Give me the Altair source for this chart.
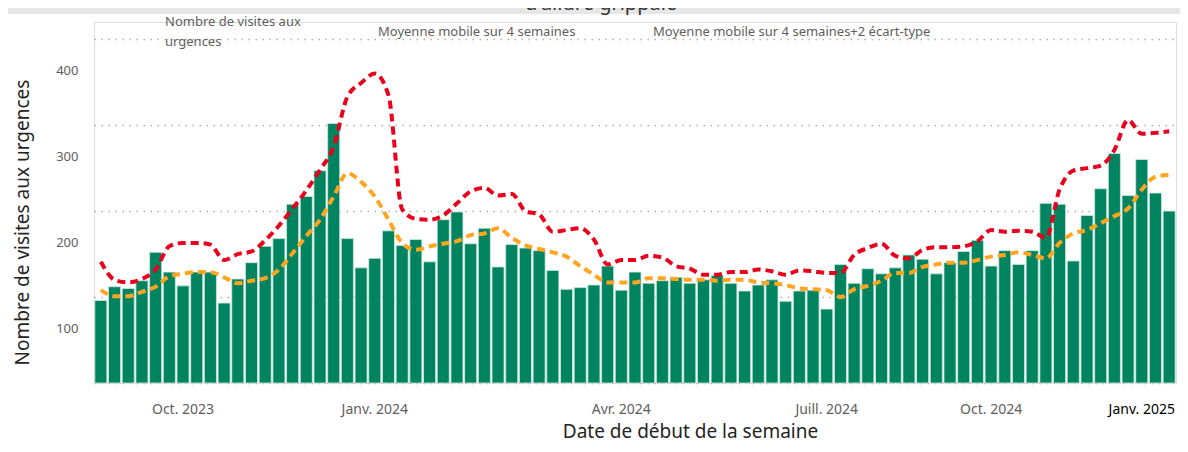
import altair as alt
import pandas as pd

# Semaines (date de début), 79 semaines
semaines = pd.date_range("2023-08-21", periods=79, freq="7D").strftime("%Y-%m-%d").tolist()

visites = [96, 112, 110, 119, 152, 129, 113, 129, 129, 93, 121, 140, 159, 168, 208, 217,
           247, 302, 168, 134, 145, 177, 160, 167, 141, 190, 199, 162, 180, 135, 161, 157,
           154, 131, 109, 111, 114, 136, 108, 129, 116, 119, 123, 116, 120, 125, 116, 107,
           114, 120, 95, 107, 108, 86, 138, 116, 133, 127, 134, 149, 144, 127, 140, 153,
           166, 136, 154, 138, 154, 209, 208, 142, 195, 226, 267, 218, 260, 221, 200]

moyenne = [108, 101, 101, 106, 112, 124, 127, 129, 129, 123, 116, 119, 122, 132, 151, 171,
           190, 217, 244, 234, 217, 190, 163, 155, 159, 162, 165, 172, 174, 180, 169, 160,
           156, 152, 147, 136, 126, 117, 117, 117, 122, 122, 121, 120, 120, 119, 120, 120,
           117, 116, 114, 110, 109, 108, 100, 109, 113, 119, 128, 128, 135, 138, 140, 140,
           143, 147, 149, 152, 149, 145, 163, 174, 178, 186, 194, 203, 225, 240, 242]

moyenne_2et = [141, 120, 117, 121, 132, 159, 163, 163, 161, 143, 150, 153, 166, 183, 203, 224,
               248, 275, 333, 349, 360, 335, 202, 191, 190, 195, 209, 223, 227, 218, 220, 200,
               196, 176, 178, 180, 167, 138, 143, 143, 148, 146, 136, 133, 126, 126, 129, 129,
               132, 130, 126, 131, 130, 128, 128, 149, 157, 162, 148, 145, 155, 158, 158, 159,
               165, 178, 176, 177, 176, 169, 225, 247, 250, 253, 271, 306, 290, 291, 293]

series = ["Nombre de visites aux urgences",
          "Moyenne mobile sur 4 semaines",
          "Moyenne mobile sur 4 semaines+2 écart-type"]
couleurs = ["#00845F", "#FFA51F", "#E8001C"]

tick_index = [6, 20, 38, 53, 65, 76]
tick_labels = ["Oct. 2023", "Janv. 2024", "Avr. 2024", "Juill. 2024", "Oct. 2024", "Janv. 2025"]
y_ticks = [0, 100, 200, 300, 400]
titre_texte = ["d'allure grippale"]

tick_weeks = [semaines[i] for i in tick_index]
label_expr = "''"
for w, lab in zip(reversed(tick_weeks), reversed(tick_labels)):
    label_expr = f"datum.value == '{w}' ? '{lab}' : ({label_expr})"

df_bar = pd.DataFrame({"semaine": semaines, "valeur": visites, "serie": series[0]})
df_line = pd.concat([
    pd.DataFrame({"semaine": semaines, "valeur": moyenne, "serie": series[1]}),
    pd.DataFrame({"semaine": semaines, "valeur": moyenne_2et, "serie": series[2]}),
])
df_titre = pd.DataFrame({"titre": titre_texte})

FONT = "Noto Sans"

color_scale = alt.Scale(domain=series, range=couleurs)
legend = alt.Legend(
    title=None, orient="none", legendX=58, legendY=-7, direction="horizontal",
    symbolSize=0, symbolOpacity=0, symbolStrokeWidth=0, labelOffset=0,
    labelFontSize=13, labelColor="#605E5C", labelFont=FONT, columnPadding=64,
    labelLimit=500, padding=0,
    labelExpr="datum.label == 'Nombre de visites aux urgences' ? ['Nombre de visites aux', 'urgences'] : datum.label",
)

x_enc = alt.X(
    "semaine:O",
    scale=alt.Scale(paddingInner=0.12, paddingOuter=0.06),
    axis=alt.Axis(
        title="Date de début de la semaine", values=tick_weeks, labelExpr=label_expr,
        labelAngle=0, ticks=False, domain=False, grid=False, labelPadding=19,
        labelFontSize=14, labelFont=FONT,
        labelColor={"condition": {"test": f"datum.value == '{tick_weeks[-1]}'", "value": "#000000"},
                    "value": "#605E5C"},
        titleFontSize=19, titleFont=FONT, titleFontWeight="normal", titleColor="#252423",
        titleX=596, titleY=48, titleAlign="center", titleBaseline="middle",
    ),
)
y_enc = alt.Y(
    "valeur:Q",
    scale=alt.Scale(domain=[0, 420], nice=False),
    axis=alt.Axis(
        title="Nombre de visites aux urgences", values=y_ticks,
        labelExpr="datum.value == 0 ? '' : datum.label", labelOffset=31,
        labelPadding=16, ticks=False, domain=False, grid=True,
        gridDash=[1.5, 5.5], gridColor="#B0B0B0", gridWidth=1.5,
        labelFontSize=13, labelFont=FONT, labelColor="#605E5C",
        titleFontSize=19, titleFont=FONT, titleFontWeight="normal", titleColor="#252423",
        titleX=-72, titleY=200, titleAlign="center", titleBaseline="middle",
    ),
)

bars = alt.Chart(df_bar).mark_bar(stroke="#CFE9E1", strokeWidth=0.8).encode(
    x=x_enc, y=y_enc,
    color=alt.Color("serie:N", scale=color_scale, legend=legend),
)

lines = alt.Chart(df_line).mark_line(
    interpolate="monotone", strokeWidth=4, strokeDash=[8, 5], strokeCap="butt"
).encode(
    x="semaine:O", y="valeur:Q",
    color=alt.Color("serie:N", scale=color_scale, legend=legend),
)

band = alt.Chart(df_titre).mark_rect(color="#E6E6E6").encode(
    x=alt.value(-86), x2=alt.value(1090), y=alt.value(-14), y2=alt.value(-8)
)
titre = alt.Chart(df_titre).mark_text(
    fontSize=20, font=FONT, color="#333333", align="center", baseline="alphabetic"
).encode(text="titre:N", x=alt.value(507), y=alt.value(-12))

chart = alt.layer(band, titre, bars, lines).properties(
    width=1082, height=361,
    autosize=alt.AutoSizeParams(type="none"),
    padding={"left": 86, "top": 14, "right": 4, "bottom": 61},
    background="white",
).configure_view(stroke=None).configure(style={"guide-label": {"lineHeight": 20}})

chart.save("out.html", embed_options={"renderer": "svg", "actions": False})
